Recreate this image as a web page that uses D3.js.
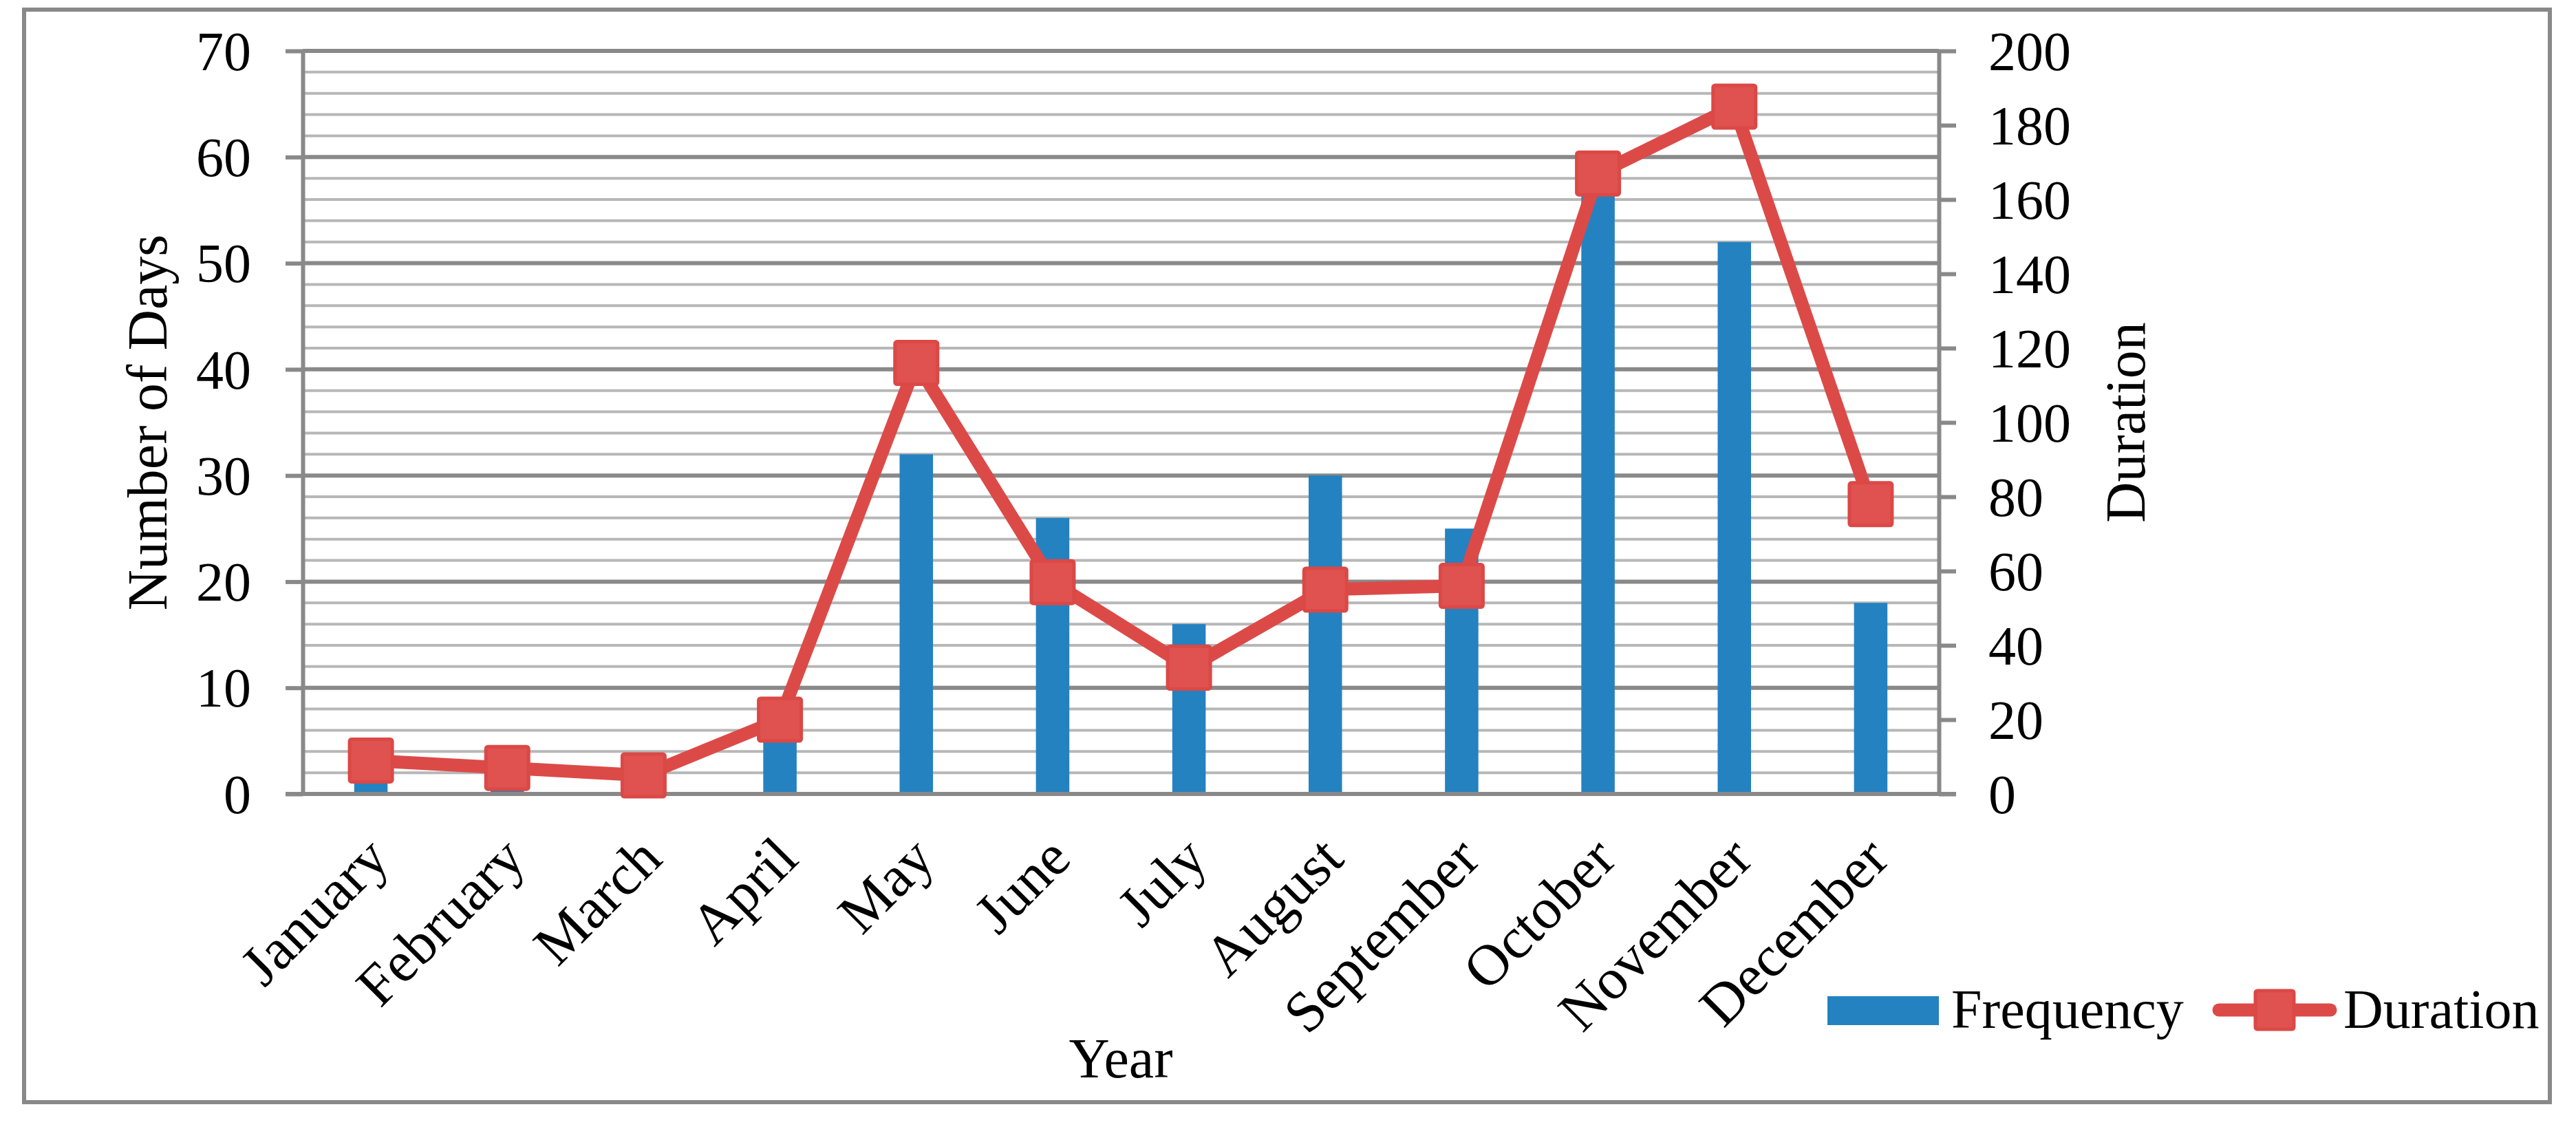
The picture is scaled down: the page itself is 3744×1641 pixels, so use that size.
<!DOCTYPE html>
<html>
<head>
<meta charset="utf-8">
<script src="https://cdn.jsdelivr.net/npm/d3@7"></script>
<style>
  html, body { margin: 0; padding: 0; background: #ffffff; }
  svg { display: block; }
  text { font-family: "Liberation Serif", "Times New Roman", serif; fill: #000; }
</style>
</head>
<body>
<div id="chart"></div>
<script>
'use strict';

// chart data
const months = ["January", "February", "March", "April", "May", "June",
                "July", "August", "September", "October", "November", "December"];
const frequency = [2, 1, 1, 6, 32, 26, 16, 30, 25, 57, 52, 18];
const duration = [9, 7, 5, 20, 116, 57, 34, 55, 56, 167, 185, 78];
const leftTicks = [0, 10, 20, 30, 40, 50, 60, 70];
const rightTicks = [0, 20, 40, 60, 80, 100, 120, 140, 160, 180, 200];
const minorSteps = d3.range(0, 71, 2);

{ // start scope

const W = 3744, H = 1641;
const plot = { left: 440, right: 2818, top: 74, bottom: 1154 };
const majorColor = "#898989";
const minorColor = "#b7b7b7";
const barColor = "#2482c1";
const lineColor = "#dc4a48";
const fontSize = 80;

const svg = d3.select("#chart").append("svg")
    .attr("width", W)
    .attr("height", H);

svg.append("rect")
    .attr("width", W).attr("height", H)
    .attr("fill", "#ffffff");

// outer frame
svg.append("rect")
    .attr("x", 35).attr("y", 14)
    .attr("width", 3706 - 35).attr("height", 1602 - 14)
    .attr("fill", "none")
    .attr("stroke", majorColor)
    .attr("stroke-width", 6);

const x = d3.scaleBand()
    .domain(months)
    .range([plot.left, plot.right])
    .padding(0);

const yLeft = d3.scaleLinear().domain([0, 70]).range([plot.bottom, plot.top]);
const yRight = d3.scaleLinear().domain([0, 200]).range([plot.bottom, plot.top]);

// minor gridlines (every 2 days)
svg.append("g")
    .selectAll("line")
    .data(minorSteps.filter(d => d % 10 !== 0))
    .enter()
    .append("line")
    .attr("x1", plot.left).attr("x2", plot.right)
    .attr("y1", d => yLeft(d)).attr("y2", d => yLeft(d))
    .attr("stroke", minorColor)
    .attr("stroke-width", 4);

// major gridlines
svg.append("g")
    .selectAll("line")
    .data(leftTicks.filter(d => d !== 0))
    .enter()
    .append("line")
    .attr("x1", plot.left).attr("x2", plot.right)
    .attr("y1", d => yLeft(d)).attr("y2", d => yLeft(d))
    .attr("stroke", majorColor)
    .attr("stroke-width", 6);

// bars
const barWidth = x.bandwidth() * 0.245;
svg.append("g")
    .selectAll("rect")
    .data(months)
    .enter()
    .append("rect")
    .attr("x", d => x(d) + (x.bandwidth() - barWidth) / 2)
    .attr("width", barWidth)
    .attr("y", (d, i) => yLeft(frequency[i]))
    .attr("height", (d, i) => yLeft(0) - yLeft(frequency[i]))
    .attr("fill", barColor);

// left axis
const leftAxis = svg.append("g")
    .attr("transform", `translate(${plot.left},0)`)
    .call(d3.axisLeft(yLeft).tickValues(leftTicks).tickSize(25).tickSizeOuter(0).tickPadding(50));

// right axis
const rightAxis = svg.append("g")
    .attr("transform", `translate(${plot.right},0)`)
    .call(d3.axisRight(yRight).tickValues(rightTicks).tickSize(25).tickSizeOuter(0).tickPadding(47));

[leftAxis, rightAxis].forEach(ax => {
    ax.select(".domain").attr("stroke", majorColor).attr("stroke-width", 6);
    ax.selectAll(".tick line").attr("stroke", majorColor).attr("stroke-width", 6);
    ax.selectAll(".tick text")
        .attr("font-size", fontSize)
        .attr("font-family", "Liberation Serif, Times New Roman, serif")
        .attr("fill", "#000")
        .attr("dy", "0.34em");
});

// bottom axis: labels rotated, line drawn separately
const bottomAxis = svg.append("g")
    .attr("transform", `translate(0,${plot.bottom})`)
    .call(d3.axisBottom(x).tickSize(0));
bottomAxis.select(".domain").remove();
bottomAxis.selectAll(".tick text")
    .attr("font-size", 84)
    .attr("font-family", "Liberation Serif, Times New Roman, serif")
    .attr("fill", "#000")
    .attr("x", 0).attr("y", 0).attr("dy", 0)
    .attr("text-anchor", "end")
    .attr("transform", "translate(30,98) rotate(-45)");

svg.append("line")
    .attr("x1", plot.left - 25).attr("x2", plot.right + 25)
    .attr("y1", plot.bottom).attr("y2", plot.bottom)
    .attr("stroke", majorColor)
    .attr("stroke-width", 6);

// duration line with square markers
const line = d3.line()
    .x((d, i) => x(months[i]) + x.bandwidth() / 2)
    .y(d => yRight(d));

svg.append("path")
    .datum(duration)
    .attr("d", line)
    .attr("fill", "none")
    .attr("stroke", lineColor)
    .attr("stroke-width", 19)
    .attr("stroke-linejoin", "round");

const markerSize = 62;
svg.append("g")
    .selectAll("rect")
    .data(duration)
    .enter()
    .append("rect")
    .attr("x", (d, i) => x(months[i]) + x.bandwidth() / 2 - markerSize / 2)
    .attr("y", d => yRight(d) - markerSize / 2)
    .attr("width", markerSize)
    .attr("height", markerSize)
    .attr("rx", 3)
    .attr("fill", "#df524f")
    .attr("stroke", "#db4846")
    .attr("stroke-width", 5);

// axis titles
svg.append("text")
    .attr("transform", `translate(242,${(plot.top + plot.bottom) / 2}) rotate(-90)`)
    .attr("text-anchor", "middle")
    .attr("font-size", 82)
    .text("Number of Days");

svg.append("text")
    .attr("transform", `translate(3117,${(plot.top + plot.bottom) / 2}) rotate(-90)`)
    .attr("text-anchor", "middle")
    .attr("font-size", 82)
    .text("Duration");

svg.append("text")
    .attr("x", (plot.left + plot.right) / 2)
    .attr("y", 1566)
    .attr("text-anchor", "middle")
    .attr("font-size", 82)
    .text("Year");

// legend
const legend = svg.append("g");
legend.append("rect")
    .attr("x", 2656).attr("y", 1448)
    .attr("width", 162).attr("height", 42)
    .attr("fill", barColor);
legend.append("text")
    .attr("x", 2836).attr("y", 1494)
    .attr("font-size", fontSize)
    .text("Frequency");
legend.append("line")
    .attr("x1", 3225).attr("x2", 3387)
    .attr("y1", 1468).attr("y2", 1468)
    .attr("stroke", lineColor)
    .attr("stroke-width", 19)
    .attr("stroke-linecap", "round");
legend.append("rect")
    .attr("x", 3306 - 28).attr("y", 1468 - 28)
    .attr("width", 56).attr("height", 56)
    .attr("rx", 3)
    .attr("fill", "#df524f")
    .attr("stroke", "#db4846")
    .attr("stroke-width", 5);
legend.append("text")
    .attr("x", 3406).attr("y", 1494)
    .attr("font-size", fontSize)
    .text("Duration");

} // end scope
</script>
</body>
</html>
